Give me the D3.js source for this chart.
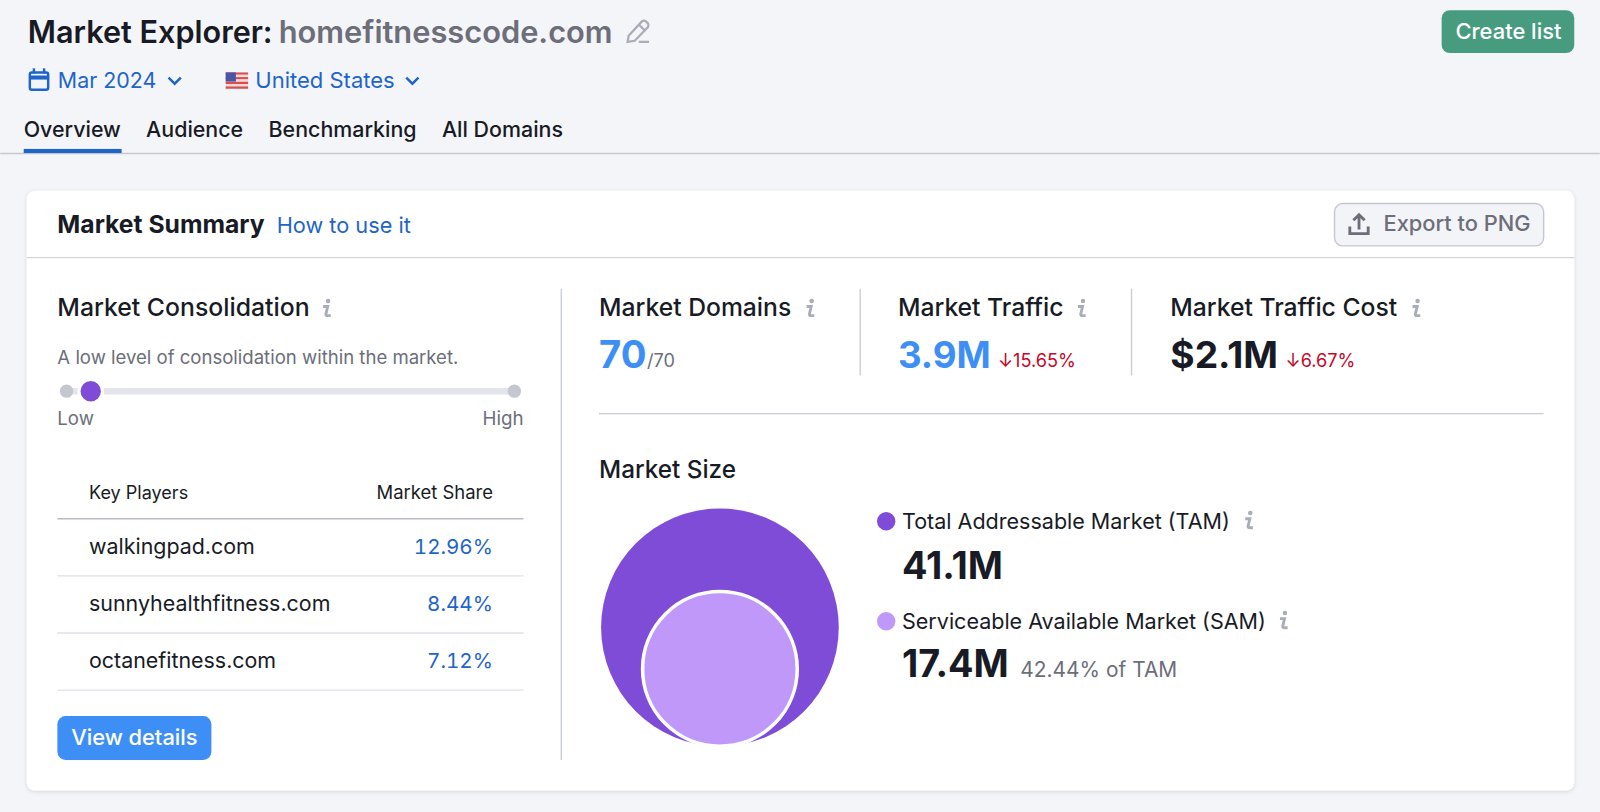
<!DOCTYPE html>
<html>
<head>
<meta charset="utf-8">
<script src="https://cdn.jsdelivr.net/npm/d3@7/dist/d3.min.js"></script>
<style>
html, body { margin: 0; padding: 0; background: #f4f5f9; overflow: hidden; }
svg { display: block; font-family: Inter, "Noto Sans", sans-serif; }
.tnum { font-feature-settings: "tnum"; }
</style>
</head>
<body>
<div id="chart"></div>
<script>
const tabs = ["Overview", "Audience", "Benchmarking", "All Domains"];
const players = ["walkingpad.com", "sunnyhealthfitness.com", "octanefitness.com"];
const shares = [12.96, 8.44, 7.12];
const marketSizeLabels = ["Total Addressable Market (TAM)", "Serviceable Available Market (SAM)"];
const marketSizeValues = [41.1, 17.4];
const kpiLabels = ["Market Domains", "Market Traffic", "Market Traffic Cost"];
const kpiValues = ["70", "3.9M", "$2.1M"];
const kpiChanges = ["/70", "↓15.65%", "↓6.67%"];
const consolidationLevel = 5.4; // 0 = low, 100 = high

const DARK = "#181b25", GREY = "#6c6e79", BLUE = "#1e65c9", BRIGHT = "#3e8ff5", RED = "#c4082a";
const LINE = "#d5d6de", PURPLE = "#7f4cd8", LILAC = "#bf98f9", ICON = "#a9acb9";

// picture is laid out on a 1568 wide grid and scaled up to the window
const svg = d3.select("#chart").append("svg")
    .attr("width", 1600).attr("height", 812)
    .attr("viewBox", "0 0 1568 796");

function label(x, y, str, size, fill, weight = 400, anchor = "start") {
    return svg.append("text")
        .attr("x", x).attr("y", y)
        .attr("font-size", size).attr("fill", fill)
        .attr("font-weight", weight).attr("text-anchor", anchor)
        .text(str);
}

function rule(x1, y1, x2, y2, color = LINE, w = 1.3) {
    svg.append("line")
        .attr("x1", x1).attr("y1", y1).attr("x2", x2).attr("y2", y2)
        .attr("stroke", color).attr("stroke-width", w);
}

function infoIcon(x, y) {
    const g = svg.append("g").attr("transform", `translate(${x},${y})`).attr("fill", "none");
    g.append("circle").attr("cx", 2.4).attr("cy", -15).attr("r", 2.2).attr("fill", ICON);
    g.append("path")
        .attr("d", "M-2.5,-9.5 H2 L.2,-2 Q0,-.6 2,-.6 H5")
        .attr("stroke", ICON).attr("stroke-width", 2.8);
}

function chevron(x, y) {
    svg.append("path")
        .attr("d", `M${x},${y} l6,6 l6,-6`)
        .attr("fill", "none").attr("stroke", BLUE).attr("stroke-width", 2.4);
}

// ---- page header
label(27, 42, "Market Explorer:", 30, DARK, 600);
label(273, 42, "homefitnesscode.com", 30.2, GREY, 600);
svg.append("path")
    .attr("d", "M616,35 L629,21 Q631,19.5 633,21 L635,23 Q636,25 635,26.5 L622,40 L615,41 Z M626,24 L632,30 M626,41 H636")
    .attr("fill", "none").attr("stroke", ICON).attr("stroke-width", 2.2);

svg.append("rect").attr("x", 1413).attr("y", 10).attr("width", 130).attr("height", 42)
    .attr("rx", 8).attr("fill", "#479c7f");
label(1478.5, 38, "Create list", 21.5, "#fff", 500, "middle");

// calendar
svg.append("rect").attr("x", 29).attr("y", 71).attr("width", 18).attr("height", 17).attr("rx", 2)
    .attr("fill", "none").attr("stroke", BLUE).attr("stroke-width", 2.4);
rule(29, 76, 47, 76, BLUE, 4);
rule(33, 67, 33, 72, BLUE, 2.4);
rule(43, 67, 43, 72, BLUE, 2.4);
label(56.5, 86.5, "Mar 2024", 21, BLUE);
chevron(165, 76);

// flag
const flagStripes = d3.range(7);
const flagY = d3.scaleBand().domain(flagStripes).range([71, 87]);
svg.selectAll(".stripe").data(flagStripes).join("rect")
    .attr("x", 221).attr("y", d => flagY(d))
    .attr("width", 22).attr("height", flagY.bandwidth())
    .attr("fill", d => d % 2 ? "#f3d9d8" : "#d8504d");
svg.append("rect").attr("x", 221).attr("y", 71).attr("width", 10).attr("height", 9).attr("fill", "#4a55a8");
label(250, 86.5, "United States", 21.6, BLUE);
chevron(398, 76);

// tabs
const tabX = [23, 143, 263, 433];
tabs.forEach((t, i) => label(tabX[i], 134, t, 21, DARK, 500));
rule(0, 150.5, 1568, 150.5, "#c6c8d0", 1.4);
svg.append("rect").attr("x", 23).attr("y", 146).attr("width", 96).attr("height", 4).attr("fill", BLUE);

// ---- card
svg.append("defs").append("filter").attr("id", "soft")
    .attr("x", "-2%").attr("y", "-2%").attr("width", "104%").attr("height", "104%")
    .append("feDropShadow").attr("dx", 0).attr("dy", 1).attr("stdDeviation", 2)
    .attr("flood-color", "#000").attr("flood-opacity", 0.13);
svg.append("rect").attr("x", 26).attr("y", 187).attr("width", 1517).attr("height", 588)
    .attr("rx", 8).attr("fill", "#fff").attr("filter", "url(#soft)");

label(56, 228, "Market Summary", 24.2, DARK, 700);
label(271, 228, "How to use it", 21.3, BLUE);
rule(26, 252.5, 1543, 252.5);

svg.append("rect").attr("x", 1308).attr("y", 199.5).attr("width", 205).attr("height", 41.5)
    .attr("rx", 8).attr("fill", "#f3f4f8").attr("stroke", "#c4c7d0").attr("stroke-width", 1.4);
svg.append("path")
    .attr("d", "M1323,222 V229 H1341 V222 M1332,225 V211 M1326.5,216 L1332,210.5 L1337.5,216")
    .attr("fill", "none").attr("stroke", GREY).attr("stroke-width", 2.8);
label(1356, 226, "Export to PNG", 21.4, GREY, 500);

rule(550, 283, 550, 745, "#c9cbd4");

// ---- market consolidation
label(56, 310, "Market Consolidation", 24.3, DARK, 500);
infoIcon(319, 310);
label(56, 357, "A low level of consolidation within the market.", 18.2, GREY);

const sliderScale = d3.scaleLinear().domain([0, 100]).range([65, 504]);
const sliderY = 383.5;
rule(sliderScale(0), sliderY, sliderScale(100), sliderY, "#e3e4ec", 6.5);
svg.selectAll(".end").data([0, 100]).join("circle")
    .attr("cx", d => sliderScale(d)).attr("cy", sliderY).attr("r", 6.5)
    .attr("fill", "#c4c6d0");
svg.append("circle").attr("cx", sliderScale(consolidationLevel)).attr("cy", sliderY).attr("r", 11.5)
    .attr("fill", PURPLE).attr("stroke", "#fff").attr("stroke-width", 3);
label(56, 417, "Low", 18.2, GREY);
label(513, 417, "High", 18.4, GREY, 400, "end");

// key players table
label(87, 489, "Key Players", 17.7, DARK);
label(483, 489, "Market Share", 18.1, DARK, 400, "end");
rule(56, 508.5, 513, 508.5, "#b9bbc6");
const rowY = d3.scalePoint().domain(players).range([543, 655]);
const ruleY = d3.scalePoint().domain(players).range([564.5, 676.5]);
players.forEach((p, i) => {
    label(87, rowY(p), p, 21, DARK);
    label(483, rowY(p), d3.format(".2f")(shares[i]) + "%", 20.2, BLUE, 400, "end").attr("class", "tnum");
    rule(56, ruleY(p), 513, ruleY(p), "#dfe0e7");
});

svg.append("rect").attr("x", 56).attr("y", 702).attr("width", 151).attr("height", 43)
    .attr("rx", 8).attr("fill", BRIGHT);
label(131.5, 730, "View details", 21.4, "#fff", 500, "middle");

// ---- KPI row
const kpiX = [587, 880, 1147];
const kpiIconX = [793, 1059, 1387];
const kpiValueColor = [BRIGHT, BRIGHT, DARK];
const kpiValueSize = [37.5, 36, 36.5];
const kpiChangeX = [634, 978, 1260];
kpiLabels.forEach((k, i) => {
    label(kpiX[i], 310, k, 24.2, DARK, 500);
    infoIcon(kpiIconX[i], 310);
    label(kpiX[i], 361, kpiValues[i], kpiValueSize[i], kpiValueColor[i], 700);
    label(kpiChangeX[i], 360, kpiChanges[i], 17.8, i ? RED : GREY);
});
rule(843, 283, 843, 368, "#c9cbd4");
rule(1109, 283, 1109, 368, "#c9cbd4");
rule(587, 405.5, 1513, 405.5, "#c9cbd4");

// ---- market size
label(587, 468.5, "Market Size", 23.8, DARK, 500);

const rScale = d3.scaleSqrt().domain([0, marketSizeValues[0]]).range([0, 116.5]);
const circleColors = [PURPLE, LILAC];
const bottomY = 731.5, centerX = 705.5;
svg.selectAll(".size").data(marketSizeValues).join("circle")
    .attr("cx", centerX)
    .attr("cy", d => bottomY - rScale(d))
    .attr("r", d => rScale(d))
    .attr("fill", (d, i) => circleColors[i])
    .attr("stroke", (d, i) => i ? "#fff" : "none")
    .attr("stroke-width", 3.5);

const legendY = [519, 617];
const legendIconX = [1223, 1257];
const sizeValueY = [568, 664];
marketSizeLabels.forEach((s, i) => {
    svg.append("circle").attr("cx", 868.5).attr("cy", legendY[i] - 8).attr("r", 9).attr("fill", circleColors[i]);
    label(884, legendY[i], s, 21.1, DARK);
    infoIcon(legendIconX[i], legendY[i] - 1);
    label(884, sizeValueY[i], marketSizeValues[i] + "M", 37, DARK, 700);
});
label(1000, 664, "42.44% of TAM", 20.5, GREY);
</script>
</body>
</html>
